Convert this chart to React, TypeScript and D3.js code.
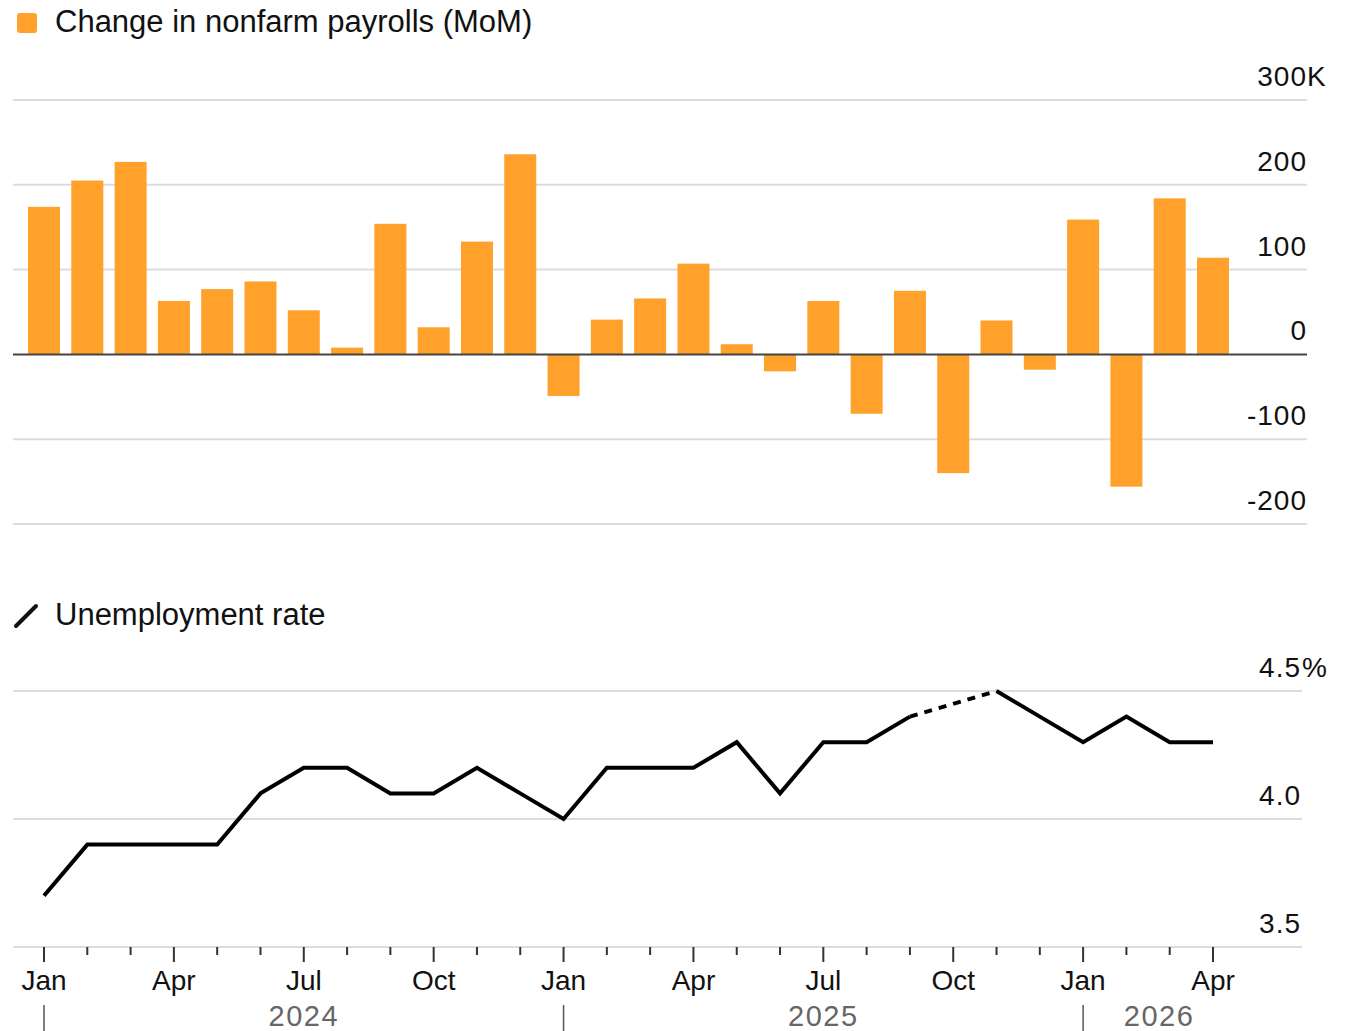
import * as d3 from "d3";
import React from "react";

// monthly categories, Jan 2024 .. Apr 2026
const months: Date[] = d3.timeMonth.range(new Date(2024, 0, 1), new Date(2026, 4, 1));

// change in nonfarm payrolls, thousands
const payrolls = [
  174, 205, 227, 63, 77, 86, 52, 8, 154, 32, 133, 236,
  -49, 41, 66, 107, 12, -20, 63, -70, 75, -140, 40, -18,
  159, -156, 184, 114,
];

// unemployment rate, % (Oct 2025 missing)
const unemployment: (number | null)[] = [
  3.7, 3.9, 3.9, 3.9, 3.9, 4.1, 4.2, 4.2, 4.1, 4.1, 4.2, 4.1,
  4.0, 4.2, 4.2, 4.2, 4.3, 4.1, 4.3, 4.3, 4.4, null, 4.5, 4.4,
  4.3, 4.4, 4.3, 4.3,
];

const payrollTicks = [-200, -100, 0, 100, 200, 300];
const rateTicks = [3.5, 4.0, 4.5];
const years = [2024, 2025, 2026];

const ORANGE = "#ffa12b";
const FONT = "'Liberation Sans', Arial, sans-serif";

export default function App() {
  const ref = React.useRef<SVGSVGElement | null>(null);

  const width = 1355;
  const height = 1031;

  const drawElm = (el: SVGSVGElement) => {
    const svg = d3.select(el);
    svg.selectAll("*").remove();

    // evenly spaced months
    const xi = d3.scaleLinear().domain([0, months.length - 1]).range([44, 1213]);
    const xm = (i: number) => xi(i);
    const gridLeft = 13;

    // ---------- payrolls panel ----------
    const y1 = d3.scaleLinear().domain([-200, 300]).range([524, 100]);

    const leg1 = svg.append("g");
    leg1
      .append("rect")
      .attr("x", 17)
      .attr("y", 13)
      .attr("width", 20)
      .attr("height", 20)
      .attr("rx", 3)
      .attr("fill", ORANGE);
    leg1
      .append("text")
      .attr("x", 55)
      .attr("y", 32)
      .attr("font-size", 31)
      .attr("fill", "#111")
      .text("Change in nonfarm payrolls (MoM)");

    const g1 = svg.append("g");
    g1.selectAll("line.grid")
      .data(payrollTicks.filter((t) => t !== 0))
      .join("line")
      .attr("x1", gridLeft)
      .attr("x2", 1307)
      .attr("y1", (d) => y1(d))
      .attr("y2", (d) => y1(d))
      .attr("stroke", "#dcdcdc")
      .attr("stroke-width", 2);

    g1.selectAll("text.lbl")
      .data(payrollTicks)
      .join("text")
      .attr("x", 1307)
      .attr("y", (d) => y1(d) - 14)
      .attr("text-anchor", "end")
      .attr("font-size", 28)
      .attr("letter-spacing", 1)
      .attr("fill", "#111")
      .text((d) => String(d));
    g1.append("text")
      .attr("x", 1307)
      .attr("y", y1(300) - 14)
      .attr("font-size", 28)
      .attr("fill", "#111")
      .text("K");

    g1.selectAll("rect")
      .data(payrolls)
      .join("rect")
      .attr("x", (_, i) => xm(i) - 16)
      .attr("width", 32)
      .attr("y", (d) => y1(Math.max(0, d)))
      .attr("height", (d) => Math.abs(y1(d) - y1(0)))
      .attr("fill", ORANGE);

    g1.append("line")
      .attr("x1", gridLeft)
      .attr("x2", 1307)
      .attr("y1", y1(0))
      .attr("y2", y1(0))
      .attr("stroke", "#444")
      .attr("stroke-width", 2);

    // ---------- unemployment panel ----------
    const y2 = d3.scaleLinear().domain([3.5, 4.5]).range([947, 691]);

    const leg2 = svg.append("g");
    leg2
      .append("line")
      .attr("x1", 16)
      .attr("y1", 626)
      .attr("x2", 36)
      .attr("y2", 606)
      .attr("stroke", "#111")
      .attr("stroke-width", 4)
      .attr("stroke-linecap", "round");
    leg2
      .append("text")
      .attr("x", 55)
      .attr("y", 625)
      .attr("font-size", 31)
      .attr("fill", "#111")
      .text("Unemployment rate");

    const g2 = svg.append("g");
    g2.selectAll("line.grid")
      .data(rateTicks)
      .join("line")
      .attr("x1", gridLeft)
      .attr("x2", 1302)
      .attr("y1", (d) => y2(d))
      .attr("y2", (d) => y2(d))
      .attr("stroke", "#dcdcdc")
      .attr("stroke-width", 2);

    g2.selectAll("text.lbl")
      .data(rateTicks)
      .join("text")
      .attr("x", 1301)
      .attr("y", (d) => y2(d) - 14)
      .attr("text-anchor", "end")
      .attr("font-size", 28)
      .attr("letter-spacing", 1)
      .attr("fill", "#111")
      .text((d) => d3.format(".1f")(d));
    g2.append("text")
      .attr("x", 1302)
      .attr("y", y2(4.5) - 14)
      .attr("font-size", 28)
      .attr("fill", "#111")
      .text("%");

    const pts = unemployment.map((v, i) => ({ i, v }));
    const line = d3
      .line<{ i: number; v: number | null }>()
      .defined((d) => d.v !== null)
      .x((d) => xm(d.i))
      .y((d) => y2(d.v as number));

    g2.append("path")
      .datum(pts)
      .attr("d", line)
      .attr("fill", "none")
      .attr("stroke", "#000")
      .attr("stroke-width", 4)
      .attr("stroke-linejoin", "miter");

    // dotted bridge over missing values
    const gaps: { i: number; v: number | null }[][] = [];
    pts.forEach((p, k) => {
      if (p.v === null) return;
      const prev = pts[k - 1];
      if (prev && prev.v === null) {
        let j = k - 1;
        while (j >= 0 && pts[j].v === null) j--;
        if (j >= 0) gaps.push([pts[j], p]);
      }
    });
    g2.selectAll("path.gap")
      .data(gaps)
      .join("path")
      .attr("d", (d) => line(d))
      .attr("fill", "none")
      .attr("stroke", "#000")
      .attr("stroke-width", 4)
      .attr("stroke-dasharray", "8 7");

    // ---------- time axis ----------
    const ax = svg.append("g");
    const major = (d: Date) => d.getMonth() % 3 === 0;
    ax.selectAll("line.tick")
      .data(months)
      .join("line")
      .attr("x1", (_, i) => xm(i))
      .attr("x2", (_, i) => xm(i))
      .attr("y1", 947)
      .attr("y2", (d) => (major(d) ? 962 : 955))
      .attr("stroke", "#333")
      .attr("stroke-width", 2);

    ax.selectAll("text.month")
      .data(months.map((d, i) => ({ d, i })).filter((o) => major(o.d)))
      .join("text")
      .attr("x", (o) => xm(o.i))
      .attr("y", 990)
      .attr("text-anchor", "middle")
      .attr("font-size", 28)
      .attr("fill", "#111")
      .text((o) => d3.timeFormat("%b")(o.d));

    const lastX = xm(months.length - 1) + 22;
    years.forEach((yr) => {
      const iStart = months.findIndex((m) => m.getFullYear() === yr);
      const x0 = xm(iStart);
      const next = months.findIndex((m) => m.getFullYear() === yr + 1);
      const x1 = next >= 0 ? xm(next) : lastX;
      ax.append("line")
        .attr("x1", x0)
        .attr("x2", x0)
        .attr("y1", 1005)
        .attr("y2", 1031)
        .attr("stroke", "#555")
        .attr("stroke-width", 1.5);
      ax.append("text")
        .attr("x", (x0 + x1) / 2)
        .attr("y", 1026)
        .attr("text-anchor", "middle")
        .attr("font-size", 29)
        .attr("letter-spacing", 1.5)
        .attr("fill", "#666")
        .text(String(yr));
    });
  };

  React.useEffect(() => {
    if (ref.current) {
      drawElm(ref.current);
    }
  });

  return (
    <svg
      ref={ref}
      width={width}
      height={height}
      style={{ position: "absolute", left: 0, top: 0, background: "#fff", fontFamily: FONT }}
    ></svg>
  );
}
